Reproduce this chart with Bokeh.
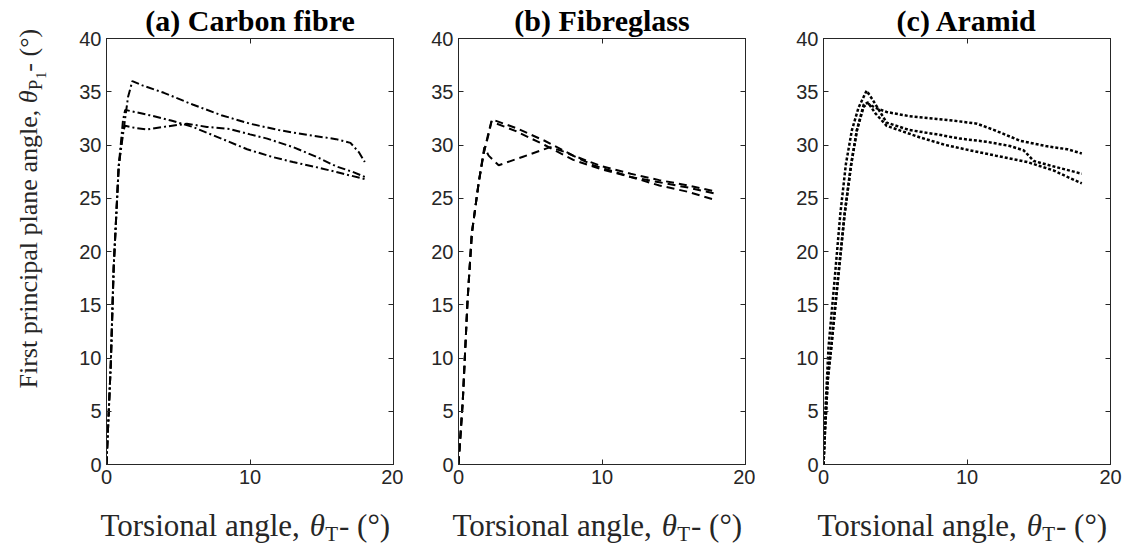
import math
from bokeh.plotting import figure
from bokeh.layouts import row, column
from bokeh.models import Range1d, FixedTicker, LinearAxis, CustomJSTickFormatter
from bokeh.core.properties import value
from bokeh.embed import file_html
from bokeh.resources import INLINE

# ---------------- data ----------------
titles = ["(a) Carbon fibre", "(b) Fibreglass", "(c) Aramid"]
x_label_main = "Torsional angle, "
x_label_sym = "θ"
x_label_sub = "T"
x_label_tail = "- (°)"
y_label_main = "First principal plane angle, "
y_label_sym = "θ"
y_label_sub = "P"
y_label_subsub = "1"
y_label_tail = " - (°)"
x_ticks = [0, 10, 20]
y_ticks = [0, 5, 10, 15, 20, 25, 30, 35, 40]

carbon_1_x = [0, 0.3, 0.5, 0.85, 1.2, 1.5, 1.8, 2.5, 4, 6, 8, 10, 12, 14, 16, 17, 17.6, 18]
carbon_1_y = [0, 9.5, 18.5, 28, 31.5, 34.5, 36.0, 35.6, 34.9, 33.8, 32.8, 32.0, 31.4, 30.95, 30.55, 30.2, 29.3, 28.4]
carbon_2_x = [0, 0.3, 0.5, 0.85, 1.15, 1.3, 3, 4.5, 6, 8, 9.8, 11.5, 13, 15, 16.5, 18]
carbon_2_y = [0, 9.5, 18.5, 28, 32.3, 33.3, 32.8, 32.3, 31.7, 30.6, 29.6, 28.9, 28.4, 27.8, 27.3, 26.8]
carbon_3_x = [0, 0.3, 0.5, 0.85, 1.15, 1.3, 2.0, 2.8, 4, 5.6, 7, 8.6, 10, 11.2, 13, 14.7, 16, 17.2, 18]
carbon_3_y = [0, 9.5, 18.5, 28, 31.3, 31.8, 31.6, 31.45, 31.7, 32.0, 31.7, 31.5, 31.0, 30.6, 29.8, 28.85, 28.0, 27.45, 27.0]

glass_1_x = [0, 0.1, 0.3, 0.63, 0.93, 1.4, 1.75, 2.1, 2.33, 4, 6, 8, 10, 12, 14, 16, 18]
glass_1_y = [0, 2, 6, 15.4, 21.7, 26.4, 29.2, 31.2, 32.4, 31.6, 30.4, 29.0, 28.0, 27.3, 26.7, 26.2, 25.6]
glass_2_x = [0, 0.1, 0.3, 0.63, 0.93, 1.4, 1.8, 2.1, 2.8, 4.5, 6.4, 7.5, 9.4, 12, 14, 16, 18]
glass_2_y = [0, 2, 6, 15.4, 21.7, 26.4, 29.8, 29.0, 28.1, 28.9, 29.8, 29.3, 28.1, 27.0, 26.2, 25.6, 24.8]
glass_3_x = [0, 0.1, 0.3, 0.63, 0.93, 1.4, 1.75, 2.1, 2.3, 4, 6, 8, 10, 12, 14, 16, 18]
glass_3_y = [0, 2, 6, 15.4, 21.7, 26.4, 29.2, 31.0, 32.2, 31.3, 30.0, 28.6, 27.7, 27.0, 26.5, 26.0, 25.4]

aramid_1_x = [0, 0.1, 0.3, 0.54, 1.0, 1.47, 1.93, 2.33, 2.8, 3.1, 3.6, 4.4, 6, 7.9, 9, 10.7, 11.9, 13.7, 15.5, 17, 18]
aramid_1_y = [0, 3, 8, 11, 17.3, 23.5, 28.2, 31.4, 33.6, 33.9, 33.5, 33.1, 32.7, 32.45, 32.3, 32.0, 31.4, 30.4, 29.9, 29.6, 29.2]
aramid_2_x = [0, 0.12, 0.35, 0.77, 1.17, 1.56, 1.98, 2.44, 3.0, 3.4, 4.4, 6, 7.9, 9.5, 11.4, 13, 13.95, 14.65, 16, 18]
aramid_2_y = [0, 4.8, 11.0, 17.3, 23.5, 28.2, 31.4, 33.5, 35.1, 34.3, 32.1, 31.4, 31.0, 30.6, 30.3, 29.9, 29.5, 28.5, 28.0, 27.3]
aramid_3_x = [0, 0.1, 0.3, 0.54, 1.0, 1.47, 1.93, 2.33, 2.8, 3.1, 3.6, 4.4, 6.75, 8.5, 10.2, 12, 14.2, 16.05, 17, 18]
aramid_3_y = [0, 3, 8, 11, 17.3, 23.5, 28.2, 31.4, 33.8, 34.0, 33.0, 31.8, 30.7, 30.0, 29.5, 29.0, 28.4, 27.6, 27.0, 26.4]

panels = [
    [(carbon_1_x, carbon_1_y), (carbon_2_x, carbon_2_y), (carbon_3_x, carbon_3_y)],
    [(glass_1_x, glass_1_y), (glass_2_x, glass_2_y), (glass_3_x, glass_3_y)],
    [(aramid_1_x, aramid_1_y), (aramid_2_x, aramid_2_y), (aramid_3_x, aramid_3_y)],
]

# ---------------- layout / style ----------------
W_TOTAL, H_TOTAL = 1126, 550
FW, FH = 287, 426
PANEL_TOP = 38
PANEL_BOT = 38
XLAB_H = H_TOTAL - PANEL_TOP - FH - PANEL_BOT
YLAB_W = 60
frame_lefts_abs = [106, 458, 823]
lefts = [106 - YLAB_W, 55, 68]
rights = [10, 10, 16]
dashes = ["8 3 2 3", "8 5", "3 2"]
widths = [2, 2, 2.5]
AX = "#262626"
SERIF = "Liberation Serif"
SANS = "Liberation Sans"


def style_axis(ax, labels=True):
    ax.axis_line_color = AX
    ax.major_tick_line_color = AX
    ax.major_tick_in = 5
    ax.major_tick_out = 0
    ax.minor_tick_in = 0
    ax.minor_tick_out = 0
    ax.minor_tick_line_color = None
    ax.axis_label = None
    if labels:
        ax.major_label_text_font = SANS
        ax.major_label_text_font_size = "20px"
        ax.major_label_text_color = AX
        ax.major_label_standoff = 5
    else:
        ax.formatter = CustomJSTickFormatter(code="return ''")
        ax.major_label_standoff = 0
        ax.major_label_text_font_size = "1px"


def text_fig(w, h):
    f = figure(width=w, height=h, x_range=Range1d(0, w), y_range=Range1d(0, h),
               output_backend="svg", toolbar_location=None, title=None,
               x_axis_type=None, y_axis_type=None,
               min_border=0, min_border_left=0, min_border_right=0,
               min_border_top=0, min_border_bottom=0)
    f.outline_line_color = None
    f.background_fill_color = "white"
    f.border_fill_color = "white"
    f.grid.visible = False
    return f


def put(f, x, y, txt, size, style="normal", align="left", baseline="alphabetic", angle=0.0):
    f.text(x=[x], y=[y], text=[txt], text_font=value(SERIF), text_font_size=value(f"{size}px"),
           text_font_style=value(style), text_align=value(align), text_baseline=value(baseline),
           angle=angle, text_color=AX)


def make_panel(i):
    p = figure(frame_width=FW, frame_height=FH,
               x_range=Range1d(0, 20), y_range=Range1d(0, 40),
               output_backend="svg", toolbar_location=None, title=titles[i],
               min_border_left=lefts[i], min_border_right=rights[i],
               min_border_top=PANEL_TOP, min_border_bottom=PANEL_BOT)
    p.title.text_font = SERIF
    p.title.text_font_size = "30px"
    p.title.text_font_style = "bold"
    p.title.text_color = "black"
    p.title.align = "center"
    p.title.standoff = 3
    p.title.offset = 0
    p.background_fill_color = "white"
    p.border_fill_color = "white"
    p.outline_line_color = AX
    p.grid.visible = False
    for xs, ys in panels[i]:
        p.line(xs, ys, line_color="black", line_width=widths[i], line_dash=dashes[i])
    p.xaxis.ticker = FixedTicker(ticks=x_ticks)
    p.yaxis.ticker = FixedTicker(ticks=y_ticks)
    style_axis(p.xaxis[0])
    style_axis(p.yaxis[0])
    top_ax = LinearAxis(ticker=FixedTicker(ticks=x_ticks))
    right_ax = LinearAxis(ticker=FixedTicker(ticks=y_ticks))
    style_axis(top_ax, labels=False)
    style_axis(right_ax, labels=False)
    p.add_layout(top_ax, "above")
    p.add_layout(right_ax, "right")
    return p


def make_xlabels():
    w = W_TOTAL - YLAB_W
    f = text_fig(w, XLAB_H)
    F, S = 31, 21
    top_abs = PANEL_TOP + FH + PANEL_BOT
    base = XLAB_H - (525 - top_abs)
    sub = XLAB_H - (533 - top_abs)
    w_main = 6.749 * F
    w_sym = 0.50 * F
    w_sub = 0.611 * S
    for fl in frame_lefts_abs:
        x0 = fl - YLAB_W - 6
        put(f, x0, base, x_label_main, F)
        put(f, x0 + w_main, base, x_label_sym, F, style="italic")
        put(f, x0 + w_main + w_sym, sub, x_label_sub, S)
        put(f, x0 + w_main + w_sym + w_sub + 1, base, x_label_tail, F)
    return f


def make_ylabel():
    f = text_fig(YLAB_W, H_TOTAL)
    G, S1, S2 = 26, 19, 14
    bx = 28
    y0 = H_TOTAL - 388
    w1 = 10.971 * G
    w2 = 0.50 * G
    w3 = 0.611 * S1
    w4 = 0.5 * S2
    ang = math.pi / 2
    put(f, bx, y0, y_label_main, G, angle=ang)
    put(f, bx, y0 + w1, y_label_sym, G, style="italic", angle=ang)
    put(f, bx + 7, y0 + w1 + w2, y_label_sub, S1, angle=ang)
    put(f, bx + 12, y0 + w1 + w2 + w3, y_label_subsub, S2, angle=ang)
    put(f, bx, y0 + w1 + w2 + w3 + w4, y_label_tail, G, angle=ang)
    return f


panel_row = row(*[make_panel(i) for i in range(3)], spacing=0)
right_part = column(panel_row, make_xlabels(), spacing=0)
layout = row(make_ylabel(), right_part, spacing=0)

open("out.html", "w").write(file_html(layout, INLINE))
